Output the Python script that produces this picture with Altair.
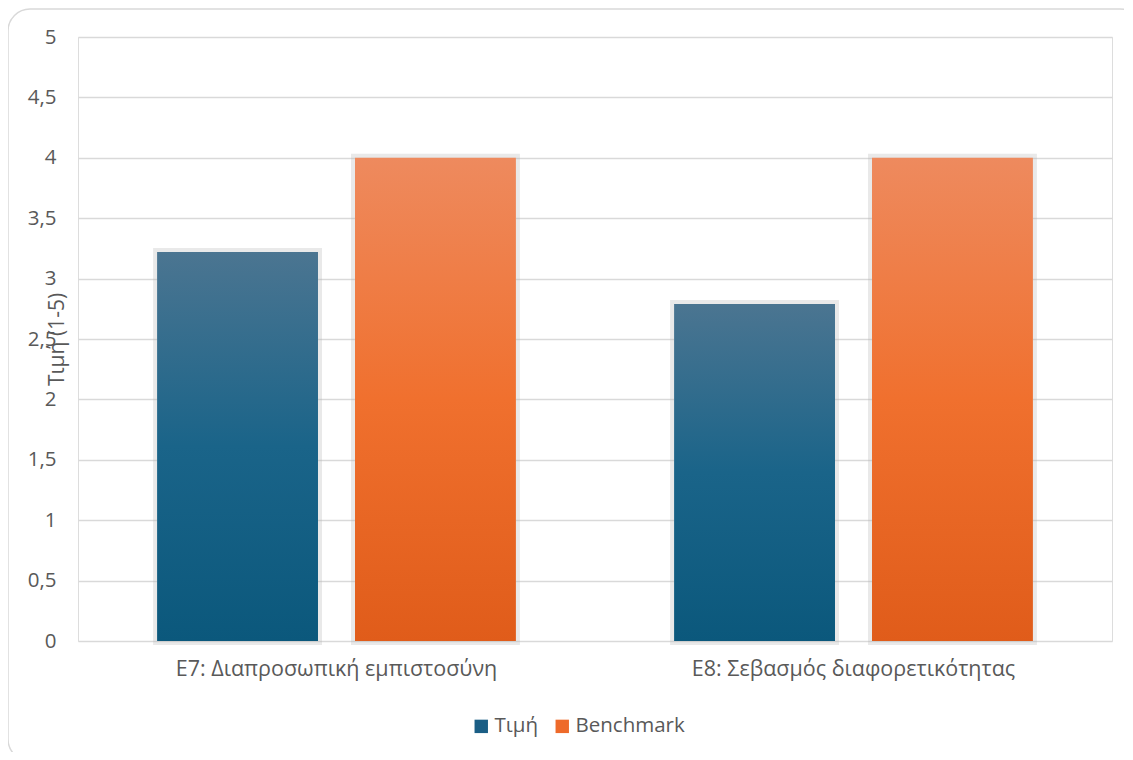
import altair as alt
import pandas as pd

categories = ["E7: Διαπροσωπική εμπιστοσύνη", "E8: Σεβασμός διαφορετικότητας"]
series_names = ["Τιμή", "Benchmark"]
timi_values = [3.22, 2.79]
benchmark_values = [4.0, 4.0]
y_ticks = [0, 0.5, 1, 1.5, 2, 2.5, 3, 3.5, 4, 4.5, 5]

rows = []
for c, v in zip(categories, timi_values):
    rows.append({"cat": c, "series": "Τιμή", "value": v})
for c, v in zip(categories, benchmark_values):
    rows.append({"cat": c, "series": "Benchmark", "value": v})
df = pd.DataFrame(rows)

FONT = "Open Sans"
TXT = "#595959"
W, H = 1034, 604
FS = 20.5

x_enc = alt.X("cat:N", sort=categories, title=None,
              scale=alt.Scale(paddingInner=0.306, paddingOuter=0.153),
              axis=alt.Axis(labelAngle=0, labelFontSize=21.5, labelColor=TXT, labelFont=FONT,
                            labelLimit=0, ticks=False, domain=False, labelPadding=17, grid=False))
xo_enc = alt.XOffset("series:N", sort=series_names,
                     scale=alt.Scale(domain=series_names, paddingInner=0.187, paddingOuter=0))
y_enc = alt.Y("value:Q", title="Τιμή (1-5)",
              scale=alt.Scale(domain=[0, 5], nice=False),
              axis=alt.Axis(values=y_ticks, labelExpr="replace(toString(datum.value), '.', ',')",
                            labelFontSize=FS, labelColor=TXT, labelFont=FONT, labelPadding=22,
                            ticks=False, domain=False, grid=True, gridColor="#d9d9d9",
                            gridWidth=1.3, titleFontSize=21, titleColor=TXT, titleFont=FONT,
                            titleFontWeight="normal", titleAngle=-90, titleX=-15, titleY=H / 2,
                            titleBaseline="alphabetic", titleAlign="center"))

base = alt.Chart(df)

grad_timi = alt.Gradient(gradient="linear", x1=0, y1=0, x2=0, y2=1, stops=[
    alt.GradientStop(color="#4b7591", offset=0),
    alt.GradientStop(color="#1a6489", offset=0.5),
    alt.GradientStop(color="#0b587c", offset=1),
])
grad_bench = alt.Gradient(gradient="linear", x1=0, y1=0, x2=0, y2=1, stops=[
    alt.GradientStop(color="#ee8a5e", offset=0),
    alt.GradientStop(color="#f0702e", offset=0.5),
    alt.GradientStop(color="#e05c1a", offset=1),
])

border = alt.Chart(pd.DataFrame({"a": [0]})).mark_rect(
    fill=None, stroke="#d9d9d9", strokeWidth=1.5, cornerRadius=22, clip=False
).encode(x=alt.value(-70), x2=alt.value(W + 30), y=alt.value(-28), y2=alt.value(H + 120))

shadow = base.mark_bar(fill="#ffffff", stroke="#b5b5b5", strokeWidth=8, strokeOpacity=0.3).encode(
    x=x_enc, xOffset=xo_enc, y=y_enc
)

legend_layer = base.mark_bar(opacity=0).encode(
    x=x_enc, xOffset=xo_enc, y=y_enc,
    color=alt.Color("series:N", sort=series_names,
                    scale=alt.Scale(domain=series_names, range=["#1a5e85", "#ee6a2a"]),
                    legend=alt.Legend(title=None, orient="none", legendX=393, legendY=679,
                                      direction="horizontal", symbolType="square", symbolSize=180,
                                      symbolOpacity=1, symbolStrokeWidth=0, labelFontSize=FS,
                                      labelColor=TXT, labelFont=FONT, columnPadding=14,
                                      labelOffset=3))
)

bars_timi = base.transform_filter(alt.datum.series == "Τιμή").mark_bar(color=grad_timi).encode(
    x=x_enc, xOffset=xo_enc, y=y_enc
)
bars_bench = base.transform_filter(alt.datum.series == "Benchmark").mark_bar(color=grad_bench).encode(
    x=x_enc, xOffset=xo_enc, y=y_enc
)

chart = alt.layer(border, shadow, legend_layer, bars_timi, bars_bench).properties(
    width=W, height=H,
    autosize=alt.AutoSizeParams(type="none"),
    padding={"left": 70, "top": 29, "right": 12, "bottom": 111},
).configure_view(stroke=None).configure(background="white")

chart.save("out.html", embed_options={"renderer": "svg", "actions": False})
